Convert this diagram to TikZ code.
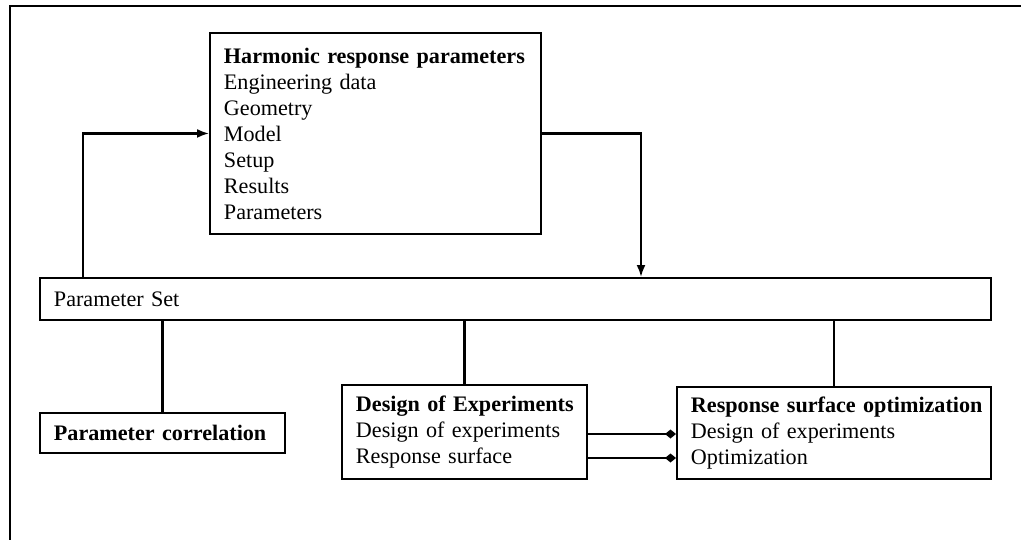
\documentclass[tikz,border=0pt]{standalone}
\usepackage{fontspec}
\setmainfont{Liberation Serif}
\usetikzlibrary{arrows.meta}
\tikzset{
	blk/.style={draw,line width=1.1pt,rectangle,anchor=north west,align=left,inner xsep=0.28cm,inner ysep=0pt,font=\fontsize{12.6}{14.8}\selectfont},
	link/.style={line width=1.2pt},
	arr/.style={link,-{Latex[length=2.4mm,width=1.8mm]}},
	dia/.style={link,-{Diamond[length=2.2mm,width=1.8mm]}}
}
\begin{document}
\begin{tikzpicture}
				\useasboundingbox (0,0) rectangle (20.42,-10.8);
				\draw[line width=1.7pt] (20.42,-0.12) -- (0.2,-0.12) -- (0.2,-10.8);
				\node[blk,text width=6.06cm,minimum height=4.02cm] (harm) at (4.18,-0.64) {\mbox{\textbf{Harmonic response parameters}}\\Engineering data\\Geometry\\Model\\Setup\\Results\\Parameters};
				\node[blk,text width=18.46cm,minimum height=0.84cm] (pset) at (0.78,-5.54) {Parameter Set};
				\node[blk,text width=4.34cm,minimum height=0.8cm] (corr) at (0.78,-8.24) {\mbox{\textbf{Parameter correlation}}};
				\node[blk,text width=4.34cm,minimum height=1.88cm] (doe) at (6.82,-7.68) {\mbox{\textbf{Design of Experiments}}\\Design of experiments\\Response surface};
				\node[blk,text width=5.72cm,minimum height=1.84cm] (rso) at (13.52,-7.72) {\mbox{\textbf{Response surface optimization}}\\Design of experiments\\Optimization};
				\coordinate (lx) at (1.66,0);
				\coordinate (rx) at (12.82,0);
				\coordinate (ya) at (0,-8.68);
				\coordinate (yb) at (0,-9.16);
				\draw[arr] (lx |- pset.north) |- (harm.west);
				\draw[arr] (harm.east) -| (rx |- pset.north);
				\draw[link] (corr.north |- pset.south) -- (corr.north);
				\draw[link] (doe.north |- pset.south) -- (doe.north);
				\draw[link] (rso.north |- pset.south) -- (rso.north);
				\draw[dia] (doe.east |- ya) -- (rso.west |- ya);
				\draw[dia] (doe.east |- yb) -- (rso.west |- yb);
\end{tikzpicture}
\end{document}
